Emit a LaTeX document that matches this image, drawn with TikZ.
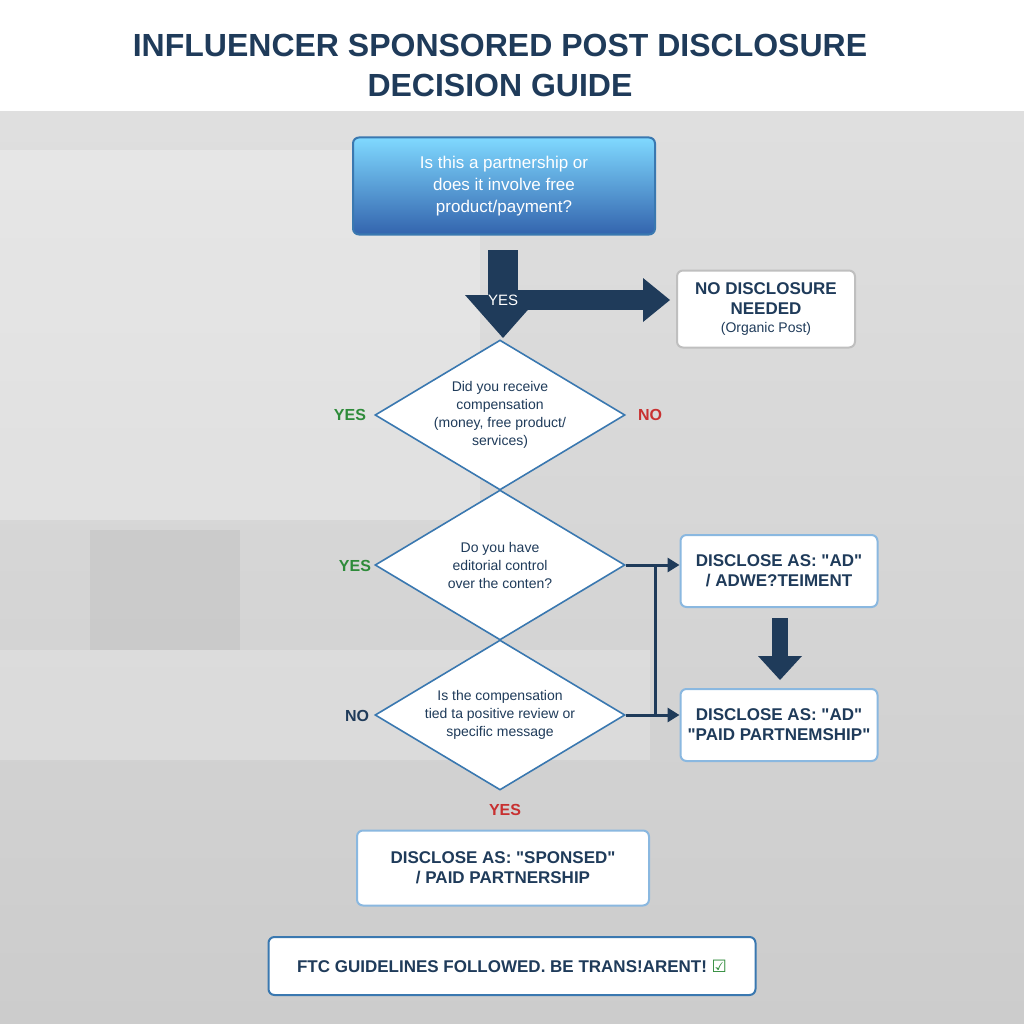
\documentclass[tikz,border=0pt]{standalone}
\usepackage{fontspec}
\setmainfont{Liberation Sans}
\newfontfamily\djv{DejaVu Sans}
\newfontfamily\plainq{Liberation Sans}[Ligatures=ResetAll]
\newcommand\qq{{\plainq\symbol{34}}}
\usetikzlibrary{arrows.meta,shapes.geometric}
\definecolor{navy}{HTML}{1F3B5A}
\definecolor{bord}{HTML}{8AB8E0}
\definecolor{dborder}{HTML}{3A78B0}
\definecolor{ygreen}{HTML}{2E8B3A}
\definecolor{nred}{HTML}{C83030}
\tikzset{
 box/.style={draw=bord,line width=2pt,fill=white,rounded corners=6pt,align=center,text=navy,font=\bfseries\fontsize{17}{20}\selectfont},
 dia/.style={diamond,draw=dborder,line width=1.6pt,fill=white,aspect=1.667,minimum width=250pt,minimum height=150pt,inner sep=0pt,align=center,text=navy,font=\fontsize{14}{18}\selectfont},
 lab/.style={font=\bfseries\fontsize{16}{18}\selectfont},
 thin/.style={draw=navy,line width=3pt,-{Triangle[length=12pt,width=14pt]}},
}
\begin{document}
\begin{tikzpicture}[x=1pt,y=-1pt]
\useasboundingbox (0,0) rectangle (1024,1024);
\fill[white] (0,0) rectangle (1024,112);
\shade[top color=gray!25,bottom color=gray!40] (0,112) rectangle (1024,1024);
\fill[white,opacity=0.25] (0,150) rectangle (480,520);
\fill[gray!55,opacity=0.35] (90,530) rectangle (240,650);
\fill[white,opacity=0.2] (0,650) rectangle (650,760);
\node[text=navy,font=\bfseries\fontsize{32}{40}\selectfont,align=center] (title) at (500,65) {INFLUENCER SPONSORED POST DISCLOSURE\\DECISION GUIDE};
\node[draw=dborder,line width=2pt,rounded corners=6pt,top color=blue!30!cyan!50!white,bottom color=blue!60!cyan!60!black!80,minimum width=302pt,minimum height=97pt,align=center,text=white,font=\fontsize{17}{22}\selectfont] (q0) at (504,186) {Is this a partnership or\\does it involve free\\product/payment?};
\node[box,draw=gray!50,minimum width=178pt,minimum height=77pt] (nd) at (766,309) {NO DISCLOSURE\\NEEDED\\[-2pt]{\mdseries\fontsize{14}{18}\selectfont(Organic Post)}};
\node[dia] (d1) at (500,415) {Did you receive\\compensation\\(money, free product/\\services)};
\node[dia] (d2) at (500,565) {Do you have\\editorial control\\over the conten?};
\node[dia] (d3) at (500,715) {Is the compensation\\tied ta positive review or\\specific message};
\node[box,minimum width=197pt,minimum height=72pt] (ad) at (779,571) {DISCLOSE AS: \qq AD\qq\\/ ADWE?TEIMENT};
\node[box,minimum width=197pt,minimum height=72pt] (pp) at (779,725) {DISCLOSE AS: \qq AD\qq\\\qq PAID PARTNEMSHIP\qq};
\node[box,minimum width=292pt,minimum height=75pt] (sp) at (503,868) {DISCLOSE AS: \qq SPONSED\qq\\/ PAID PARTNERSHIP};
\node[box,draw=dborder,minimum width=487pt,minimum height=58pt] (ftc) at (512,966) {FTC GUIDELINES FOLLOWED. BE TRANS!ARENT! {\djv\mdseries\textcolor{ygreen}{☑}}};
% thick arrows
\coordinate (a1) at (503,300);
\fill[navy] (488,250) rectangle (518,296);
\fill[navy] (465,295) -- (503,338) -- (541,295) -- cycle;
\fill[navy] (518,290) rectangle (645,310);
\fill[navy] (643,278) -- (670,300) -- (643,322) -- cycle;
\node[text=white,font=\fontsize{15}{17}\selectfont] (yes0) at (a1) {YES};
\fill[navy] (772,618) rectangle (788,658);
\fill[navy] (758,656) -- (780,680) -- (802,656) -- cycle;
% connectors
\draw[thin] (d2.east) -- (ad.west |- d2.east);
\draw[thin] (d3.east) -- (pp.west |- d3.east);
\draw[navy,line width=3pt] (655,565) -- (655,715);
\node[lab,text=ygreen] (y1) at (350,415) {YES};
\node[lab,text=nred] (n1) at (650,415) {NO};
\node[lab,text=ygreen] (y2) at (355,566) {YES};
\node[lab,text=navy] (n3) at (357,716) {NO};
\node[lab,text=nred] (y3) at (505,810) {YES};
\end{tikzpicture}
\end{document}
